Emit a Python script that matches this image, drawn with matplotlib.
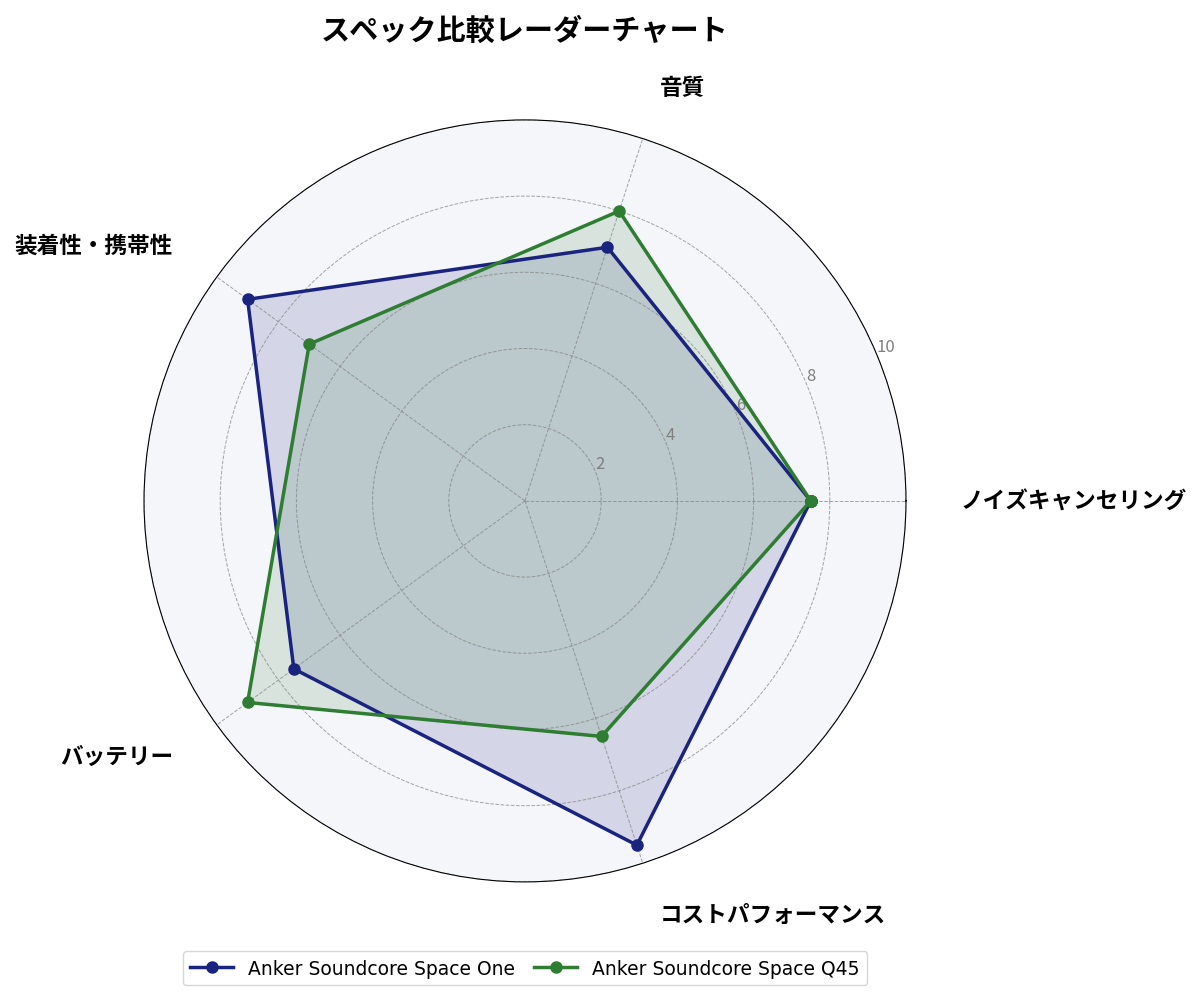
import numpy as np
import matplotlib.pyplot as plt

plt.rcParams['font.family'] = ['Noto Sans CJK JP', 'DejaVu Sans']

categories = ['ノイズキャンセリング', '音質', '装着性・携帯性', 'バッテリー', 'コストパフォーマンス']
space_one = [7.5, 7.0, 9.0, 7.5, 9.5]
space_q45 = [7.5, 8.0, 7.0, 9.0, 6.5]
series_names = ['Anker Soundcore Space One', 'Anker Soundcore Space Q45']
colors = ['#1a237e', '#2e7d32']

n = len(categories)
angles = np.linspace(0, 2*np.pi, n, endpoint=False).tolist()
angles += angles[:1]

fig = plt.figure(figsize=(12, 10.03), dpi=100)
ax = fig.add_axes([0.12, 0.1196, 0.635, 0.76], polar=True)
ax.set_facecolor('#f5f6fa')

for vals, name, c in zip([space_one, space_q45], series_names, colors):
    v = vals + vals[:1]
    ax.plot(angles, v, color=c, linewidth=2.5, marker='o', markersize=8, label=name)
    ax.fill(angles, v, color=c, alpha=0.15)

ax.set_ylim(0, 10)
ax.set_yticks([2, 4, 6, 8, 10])
ax.set_yticklabels(['2', '4', '6', '8', '10'], color='gray', fontsize=12)
ax.set_xticks(angles[:-1])
ax.set_xticklabels([])
ax.grid(color='gray', linestyle='--', linewidth=0.7, alpha=0.7)

# 軸ラベル（外側に配置）
for ang, lab in zip(angles[:-1], categories):
    ha = 'left' if np.cos(ang) > 0.01 else ('right' if np.cos(ang) < -0.01 else 'center')
    ax.text(ang, 11.42, lab, ha=ha, va='center', fontsize=16.3, fontweight='bold',
            clip_on=False)

fig.suptitle('スペック比較レーダーチャート', fontsize=21, fontweight='bold', x=0.4375, y=0.984)
fig.legend(loc='center', bbox_to_anchor=(0.4375, 0.0335), ncol=2,
           prop={'family': ['DejaVu Sans'], 'size': 13.5},
           columnspacing=1.0, handlelength=2.3)

fig.savefig('out.png')
